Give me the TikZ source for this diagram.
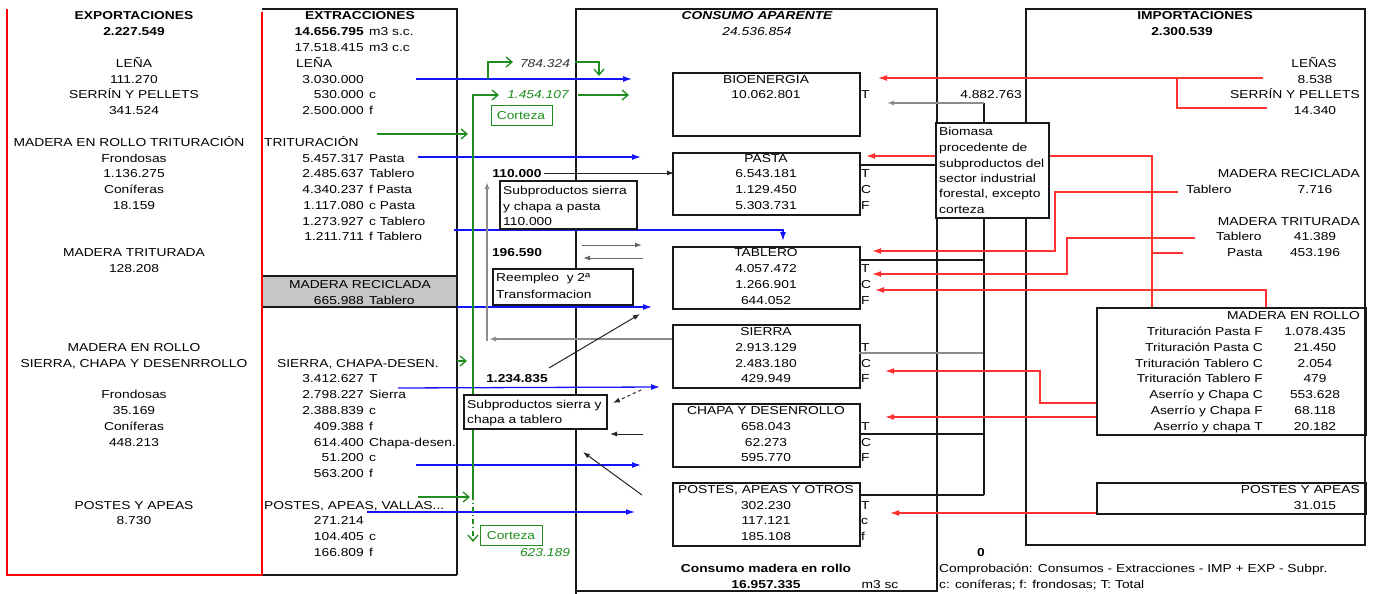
\documentclass[tikz,border=0pt]{standalone}
\usepackage{fontspec}
\setmainfont{Liberation Sans}[FakeStretch=1.2]
\usetikzlibrary{arrows.meta}
\newcommand\myrow[1]{20+15.78*#1}
\definecolor{bl}{RGB}{20,20,250}
\definecolor{rd}{RGB}{255,50,50}
\definecolor{gn}{RGB}{30,140,30}
\tikzset{
  t/.style={inner sep=0pt, anchor=base, font=\fontsize{11.5}{14}\selectfont},
  tl/.style={t, anchor=base west},
  tr/.style={t, anchor=base east},
  frame/.style={draw=black!90, line width=1.8pt},
  ibox/.style={draw=black!90, line width=1.6pt, inner sep=0pt, anchor=north west},
  wbox/.style={ibox, fill=white},
  bluea/.style={draw=bl, line width=1.3pt, -{Latex[length=9pt,width=6pt]}},
  reda/.style={draw=rd, line width=1.3pt, -{Latex[length=9pt,width=6pt]}},
  redl/.style={draw=rd, line width=1.3pt},
  gna/.style={draw=gn, line width=1.3pt, -{Straight Barb[length=6pt,width=10pt]}},
  gnl/.style={draw=gn, line width=1.3pt},
  blk/.style={draw=black!90, line width=1.4pt},
  blka/.style={draw=black!85, line width=1pt, -{Latex[length=7pt,width=5pt]}},
  graya/.style={draw=black!45, line width=1.6pt, -{Latex[length=7pt,width=5pt]}},
  thina/.style={draw=black!60, line width=1pt, -{Latex[length=7pt,width=5pt]}},
}
\begin{document}
\begin{tikzpicture}[x=1pt,y=-1pt]
\useasboundingbox (0,0) rectangle (1376,594);
\fill[white] (0,0) rectangle (1376,594);

% ---------- frames ----------
\fill[gray!45] (262,276) rectangle (457,307);
\draw[black!90, line width=2.5pt] (262,276) -- (457,276) (262,307) -- (457,307);
\draw[frame] (262,9) -- (457,9) -- (457,575);
\draw[black!90, line width=2.5pt] (262,575) -- (457,575);
\draw[red, line width=1.8pt] (7,9) -- (7,575) -- (262,575);
\draw[red, line width=1.8pt] (262,12) -- (262,575);
\draw[frame] (576,9) rectangle (937,591);
\draw[frame] (576,591) -- (576,594);
\draw[frame] (1026,9) rectangle (1365,545);

% ---------- consumo boxes ----------
\node[ibox, minimum width=187pt, minimum height=63pt] (bio) at (672,72) {};
\node[ibox, minimum width=187pt, minimum height=62pt] (pasta) at (672,152) {};
\node[ibox, minimum width=187pt, minimum height=62pt] (tab) at (672,246) {};
\node[ibox, minimum width=187pt, minimum height=63pt] (sie) at (672,324) {};
\node[ibox, minimum width=187pt, minimum height=63pt] (cha) at (672,403) {};
\node[ibox, minimum width=187pt, minimum height=63pt] (pos) at (672,482) {};
\node[ibox, minimum width=269pt, minimum height=127pt] (rollo) at (1096,307) {};
\node[ibox, minimum width=269pt, minimum height=31pt] (postimp) at (1096,482) {};

% ---------- biomasa collector ----------
\coordinate (bv) at (984,103);
\draw[blk] (859,165) -- (935,165);
\draw[blk] (859,260) -- (984,260);
\draw[draw=black!45, line width=1.5pt] (859,353) -- (984,353);
\draw[blk] (859,434) -- (984,434);
\draw[blk] (859,495) -- (984,495);
\draw[blk] (984,495) -- (984,103);
\draw[graya, line width=1.3pt] (bv) -- (887,103);

% ---------- red import connectors ----------
\draw[reda] (1263,78) -- (878,78);
\draw[redl] (1267,108) -- (1177,108) -- (1177,78);
\draw[reda] (1152,307) -- (1152,156) -- (866,156);
\draw[redl] (1183,253) -- (1152,253);
\draw[reda] (1178,192) -- (1055,192) -- (1055,251) -- (872,251);
\draw[reda] (1195,238) -- (1067,238) -- (1067,274) -- (872,274);
\draw[reda] (1266,307) -- (1266,290) -- (875,290);
\draw[reda] (1096,403) -- (1040,403) -- (1040,371) -- (885,371);
\draw[reda] (1096,417) -- (885,417);
\draw[reda] (1096,513) -- (890,513);

% ---------- blue extraction connectors ----------
\draw[bluea] (416,79) -- (632,79);
\draw[bluea] (418,157) -- (641,157);
\draw[bluea] (454,230) -- (783,230) -- (783,241);
\draw[bluea] (457,307) -- (652,307);
\draw[bluea] (398,388) -- (660,387);
\draw[bluea] (416,465) -- (641,465);
\draw[bluea] (367,512) -- (635,512);

% ---------- green bark connectors ----------
\draw[gna] (488,79) -- (488,62) -- (513,62);
\draw[gna] (575,62) -- (599,62) -- (599,76);
\draw[gna] (473,495) -- (473,95) -- (499,95);
\draw[gna] (578,95) -- (629,95);
\draw[gna, dash pattern=on 5pt off 3pt on 1pt off 3pt] (473,495) -- (473,542);
\draw[gna] (377,134) -- (468,134);
\draw[gna] (457,361) -- (467,361);
\draw[gna] (418,497) -- (470,497);

% ---------- middle gray/black connectors ----------
\draw[blka] (544,173) -- (674,173);
\draw[graya] (672,339) -- (489,339);
\draw[graya] (487,341) -- (487,182);
\draw[thina] (582,245) -- (642,245);
\draw[thina] (643,258) -- (583,258);
\draw[blka] (549,368) -- (640,314);
\draw[blka, dashed] (641,390) -- (613,403);
\draw[blka] (643,434) -- (610,434);
\draw[blka] (642,495) -- (583,452);

% ---------- white boxes on top ----------
\node[wbox, minimum width=113pt, minimum height=95pt] (biom) at (935,122) {};
\node[wbox, minimum width=137pt, minimum height=48pt] (sub1) at (499,180) {};
\node[wbox, minimum width=140pt, minimum height=36pt] (reemp) at (492,268) {};
\node[wbox, minimum width=143pt, minimum height=34pt] (sub2) at (463,394) {};
\node[ibox, draw=gn, line width=1.3pt, minimum width=61pt, minimum height=20pt] (cort1) at (491,105) {};
\node[ibox, draw=gn, line width=1.3pt, minimum width=62pt, minimum height=20pt] (cort2) at (480,525) {};

% ---------- export texts ----------
\node[t] (e0) at (134,{\myrow{0}}) {\bfseries EXPORTACIONES};
\node[t] (e1) at (134,{\myrow{1}}) {\bfseries 2.227.549};
\node[t] (e3) at (134,{\myrow{3}}) {LEÑA};
\node[t] (e4) at (134,{\myrow{4}}) {111.270};
\node[t] (e5) at (134,{\myrow{5}}) {SERRÍN Y PELLETS};
\node[t] (e6) at (134,{\myrow{6}}) {341.524};
\node[t] (e8) at (129,{\myrow{8}}) {MADERA EN ROLLO TRITURACIÓN};
\node[t] (e9) at (134,{\myrow{9}}) {Frondosas};
\node[t] (e10) at (134,{\myrow{10}}) {1.136.275};
\node[t] (e11) at (134,{\myrow{11}}) {Coníferas};
\node[t] (e12) at (134,{\myrow{12}}) {18.159};
\node[t] (e15) at (134,{\myrow{15}}) {MADERA TRITURADA};
\node[t] (e16) at (134,{\myrow{16}}) {128.208};
\node[t] (e21) at (134,{\myrow{21}}) {MADERA EN ROLLO};
\node[t] (e22) at (134,{\myrow{22}}) {SIERRA, CHAPA Y DESENRROLLO};
\node[t] (e24) at (134,{\myrow{24}}) {Frondosas};
\node[t] (e25) at (134,{\myrow{25}}) {35.169};
\node[t] (e26) at (134,{\myrow{26}}) {Coníferas};
\node[t] (e27) at (134,{\myrow{27}}) {448.213};
\node[t] (e31) at (134,{\myrow{31}}) {POSTES Y APEAS};
\node[t] (e32) at (134,{\myrow{32}}) {8.730};

% ---------- extraction texts ----------
\node[t] (x0) at (360,{\myrow{0}}) {\bfseries EXTRACCIONES};
\node[tr] (x1) at (364,{\myrow{1}}) {\bfseries 14.656.795};
\node[tl] (x1s) at (369,{\myrow{1}}) {m3 s.c.};
\node[tl] (x3) at (296,{\myrow{3}}) {LEÑA};
\node[tl] (x8) at (264,{\myrow{8}}) {TRITURACIÓN};
\node[t] (x17) at (360,{\myrow{17}}) {MADERA RECICLADA};
\node[tl] (x22) at (277,{\myrow{22}}) {SIERRA, CHAPA-DESEN.};
\node[tl] (x31) at (264,{\myrow{31}}) {POSTES, APEAS, VALLAS...};
\foreach \k/\n/\s in {2/17.518.415/m3 c.c, 4/3.030.000/{}, 5/530.000/c, 6/2.500.000/f,
  9/5.457.317/Pasta, 10/2.485.637/Tablero, 11/4.340.237/f Pasta, 12/1.117.080/c Pasta,
  13/1.273.927/c Tablero, 14/1.211.711/f Tablero, 18/665.988/Tablero,
  23/3.412.627/T, 24/2.798.227/Sierra, 25/2.388.839/c, 26/409.388/f,
  27/614.400/Chapa-desen., 28/51.200/c, 29/563.200/f,
  32/271.214/{}, 33/104.405/c, 34/166.809/f}{
  \node[tr] (xn\k) at (364,{\myrow{\k}}) {\n};
  \node[tl] (xs\k) at (369,{\myrow{\k}}) {\s};
}

% ---------- consumo texts ----------
\node[t] (c0) at (757,{\myrow{0}}) {\bfseries\itshape CONSUMO APARENTE};
\node[t] (c1) at (757,{\myrow{1}}) {\itshape 24.536.854};
\foreach \k/\s in {4/BIOENERGÍA, 5/10.062.801, 9/PASTA, 10/6.543.181, 11/1.129.450, 12/5.303.731,
  15/TABLERO, 16/4.057.472, 17/1.266.901, 18/644.052,
  20/SIERRA, 21/2.913.129, 22/2.483.180, 23/429.949,
  25/CHAPA Y DESENROLLO, 26/658.043, 27/62.273, 28/595.770,
  31/302.230, 32/117.121, 33/185.108}{
  \node[t] (cc\k) at (766,{\myrow{\k}}) {\s};
}
\node[t] (cc30) at (766,{\myrow{30}}) {POSTES, APEAS Y OTROS};
\foreach \k/\s in {5/T, 10/T, 11/C, 12/F, 16/T, 17/C, 18/F, 21/T, 22/C, 23/F,
  26/T, 27/C, 28/F, 31/T, 32/c, 33/f}{
  \node[tl] (ct\k) at (861,{\myrow{\k}}) {\s};
}
\node[t] (c35) at (766,{\myrow{35}}) {\bfseries Consumo madera en rollo};
\node[t] (c36) at (766,{\myrow{36}}) {\bfseries 16.957.335};
\node[t] (c36u) at (880,{\myrow{36}}) {m3 sc};

% ---------- middle labels ----------
\node[t, text=black!80] (g784) at (545,{\myrow{3}}) {\itshape 784.324};
\node[t, text=gn] (g1454) at (538,{\myrow{5}}) {\itshape 1.454.107};
\node[t, text=gn] (gc1) at (521,119) {Corteza};
\node[t, text=gn] (gc2) at (511,539) {Corteza};
\node[t, text=gn] (g623) at (545,{\myrow{34}}) {\itshape 623.189};
\node[t] (m110) at (517,{\myrow{10}}) {\bfseries 110.000};
\node[t] (m196) at (517,{\myrow{15}}) {\bfseries 196.590};
\node[t] (m1234) at (517,{\myrow{23}}) {\bfseries 1.234.835};
\node[tl] (s1a) at (503,194) {Subproductos sierra};
\node[tl] (s1b) at (503,210) {y chapa a pasta};
\node[tl] (s1c) at (503,225) {110.000};
\node[tl] (r1a) at (496,281) {Reempleo\ \ y 2ª};
\node[tl] (r1b) at (496,298) {Transformacion};
\node[tl] (s2a) at (467,408) {Subproductos sierra y};
\node[tl] (s2b) at (467,423) {chapa a tablero};

% ---------- biomasa texts ----------
\node[t] (b4882) at (991,{\myrow{5}}) {4.882.763};
\node[tl] (bm1) at (939,135) {Biomasa};
\node[tl] (bm2) at (939,151) {procedente de};
\node[tl] (bm3) at (939,167) {subproductos del};
\node[tl] (bm4) at (939,182) {sector industrial};
\node[tl] (bm5) at (939,197) {forestal, excepto};
\node[tl] (bm6) at (939,213) {corteza};

% ---------- import texts ----------
\node[t] (i0) at (1195,{\myrow{0}}) {\bfseries IMPORTACIONES};
\node[t] (i1) at (1182,{\myrow{1}}) {\bfseries 2.300.539};
\node[t] (i3) at (1314,{\myrow{3}}) {LEÑAS};
\node[t] (i4) at (1315,{\myrow{4}}) {8.538};
\node[tr] (i5) at (1360,{\myrow{5}}) {SERRÍN Y PELLETS};
\node[t] (i6) at (1315,{\myrow{6}}) {14.340};
\node[tr] (i10) at (1360,{\myrow{10}}) {MADERA RECICLADA};
\node[tl] (i11a) at (1186,{\myrow{11}}) {Tablero};
\node[t] (i11b) at (1315,{\myrow{11}}) {7.716};
\node[tr] (i13) at (1360,{\myrow{13}}) {MADERA TRITURADA};
\node[tl] (i14a) at (1216,{\myrow{14}}) {Tablero};
\node[t] (i14b) at (1315,{\myrow{14}}) {41.389};
\node[tl] (i15a) at (1227,{\myrow{15}}) {Pasta};
\node[t] (i15b) at (1315,{\myrow{15}}) {453.196};
\node[tr] (i19) at (1360,{\myrow{19}}) {MADERA EN ROLLO};
\foreach \k/\l/\v in {20/Trituración Pasta F/1.078.435, 21/Trituración Pasta C/21.450,
  22/Trituración Tablero C/2.054, 23/Trituración Tablero F/479,
  24/Aserrío y Chapa C/553.628, 25/Aserrío y Chapa F/68.118, 26/Aserrío y chapa T/20.182}{
  \node[tr] (il\k) at (1263,{\myrow{\k}}) {\l};
  \node[t] (iv\k) at (1315,{\myrow{\k}}) {\v};
}
\node[tr] (i30) at (1360,{\myrow{30}}) {POSTES Y APEAS};
\node[t] (i31) at (1315,{\myrow{31}}) {31.015};

% ---------- bottom notes ----------
\node[t] (n0) at (981,{\myrow{34}}) {\bfseries 0};
\node[tl] (n1) at (939,{\myrow{35}}) {Comprobación: Consumos - Extracciones - IMP + EXP - Subpr.};
\node[tl] (n2) at (939,{\myrow{36}}) {c: coníferas; f: frondosas; T: Total};
\end{tikzpicture}
\end{document}
